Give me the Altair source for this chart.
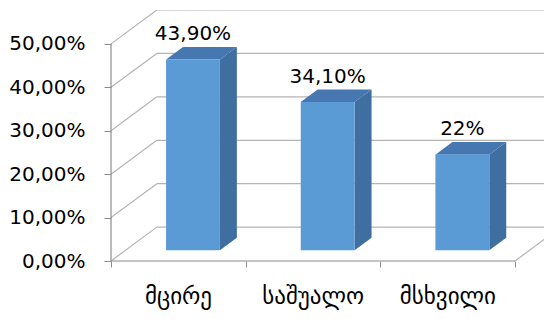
import json
import altair as alt
import pandas as pd

# ---- data ----
categories = ["მცირე", "საშუალო", "მსხვილი"]
values = [0.439, 0.341, 0.22]
value_labels = ["43,90%", "34,10%", "22%"]
y_ticks = [0.0, 0.1, 0.2, 0.3, 0.4, 0.5]
x_boundaries = [0, 1, 2, 3]

# ---- pseudo-3D geometry (style, in data units) ----
DX, DY = 0.34, 0.078      # depth of the walls
F0, FD = 0.32, 0.37       # bar position in depth, bar depth
BW = 0.40                 # bar width
XMAX = 3.215
YMAX = max(y_ticks) + DY
W, H = 433, 251

front, side, top, labels = [], [], [], []
for i, (c, v, lab) in enumerate(zip(categories, values, value_labels)):
    xl = i + 0.5 - BW / 2 + F0 * DX
    xr = i + 0.5 + BW / 2 + F0 * DX
    base = F0 * DY
    t = v + base
    front.append(dict(cat=c, x=xl, x2=xr, y=base, y2=t))
    side.append(dict(cat=c, x=xr, y=base, y2=t))
    side.append(dict(cat=c, x=xr + FD * DX, y=base + FD * DY, y2=t + FD * DY))
    top.append(dict(cat=c, y=t, x=xl, x2=xr))
    top.append(dict(cat=c, y=t + FD * DY, x=xl + FD * DX, x2=xr + FD * DX))
    labels.append(dict(cat=c, x=(xl + xr) / 2, y=t + FD * DY, text=lab))

grid = []
for v in y_ticks:
    grid.append(dict(x=0, x2=DX, y=v, y2=v + DY))
    grid.append(dict(x=DX, x2=XMAX + 1, y=v + DY, y2=v + DY))
grid.append(dict(x=3, x2=3 + DX, y=0, y2=DY))
axis_lines = [dict(x=0, x2=3, y=0, y2=0), dict(x=0, x2=0, y=0, y2=max(y_ticks))]

xs = alt.Scale(domain=[0, XMAX], nice=False, zero=False)
ys = alt.Scale(domain=[0, YMAX], nice=False, zero=False)

FONT = "DejaVu Sans"
cat_expr = "datum.value < 3 ? " + json.dumps(categories, ensure_ascii=False) + "[datum.value] : ''"

x_axis = alt.Axis(
    values=x_boundaries, title=None, grid=False, domain=False,
    tickSize=6, tickColor="#8c8c8c", labelExpr=cat_expr, labelOffset=67,
    labelFont=FONT, labelFontSize=23, labelColor="#000000", labelPadding=18,
    labelBound=False, labelFlush=False, labelOverlap=False)
y_axis = alt.Axis(
    values=y_ticks, title=None, grid=False, domain=False,
    tickSize=7, tickColor="#8c8c8c",
    labelExpr="replace(format(datum.value, '.2%'), '.', ',')",
    labelFont=FONT, labelFontSize=20, labelColor="#000000", labelPadding=19)

grid_layer = alt.Chart(pd.DataFrame(grid)).mark_rule(color="#b4b4b4", strokeWidth=1.2, clip=True).encode(
    x=alt.X("x:Q", scale=xs, axis=x_axis), x2="x2:Q",
    y=alt.Y("y:Q", scale=ys, axis=y_axis), y2="y2:Q",
)

axis_layer = alt.Chart(pd.DataFrame(axis_lines)).mark_rule(color="#8c8c8c", strokeWidth=1.2).encode(
    x=alt.X("x:Q", scale=xs, axis=x_axis), x2="x2:Q",
    y=alt.Y("y:Q", scale=ys, axis=y_axis), y2="y2:Q",
)

side_layer = alt.Chart(pd.DataFrame(side)).mark_area(color="#3f6ea0", orient="vertical", opacity=1).encode(
    x=alt.X("x:Q", scale=xs, axis=x_axis),
    y=alt.Y("y:Q", scale=ys, axis=y_axis, stack=None),
    y2="y2:Q",
    detail="cat:N",
)

top_layer = alt.Chart(pd.DataFrame(top)).mark_area(color="#4777b0", orient="horizontal", opacity=1).encode(
    y=alt.Y("y:Q", scale=ys, axis=y_axis),
    x=alt.X("x:Q", scale=xs, axis=x_axis, stack=None),
    x2="x2:Q",
    detail="cat:N",
)

front_layer = alt.Chart(pd.DataFrame(front)).mark_rect(color="#5b9bd5").encode(
    x=alt.X("x:Q", scale=xs, axis=x_axis), x2="x2:Q",
    y=alt.Y("y:Q", scale=ys, axis=y_axis), y2="y2:Q",
)

text_layer = alt.Chart(pd.DataFrame(labels)).mark_text(
    font=FONT, fontSize=20, color="#000000", baseline="alphabetic", dy=-7
).encode(
    x=alt.X("x:Q", scale=xs, axis=x_axis),
    y=alt.Y("y:Q", scale=ys, axis=y_axis),
    text="text:N",
)

chart = alt.layer(grid_layer, axis_layer, side_layer, top_layer, front_layer, text_layer).properties(
    width=W, height=H,
    background="#ffffff",
    autosize=alt.AutoSizeParams(type="none"),
    padding={"left": 103, "top": 2, "right": 0, "bottom": 50},
).configure_view(stroke=None)

chart.save("out.html", embed_options={"renderer": "svg", "actions": False})
